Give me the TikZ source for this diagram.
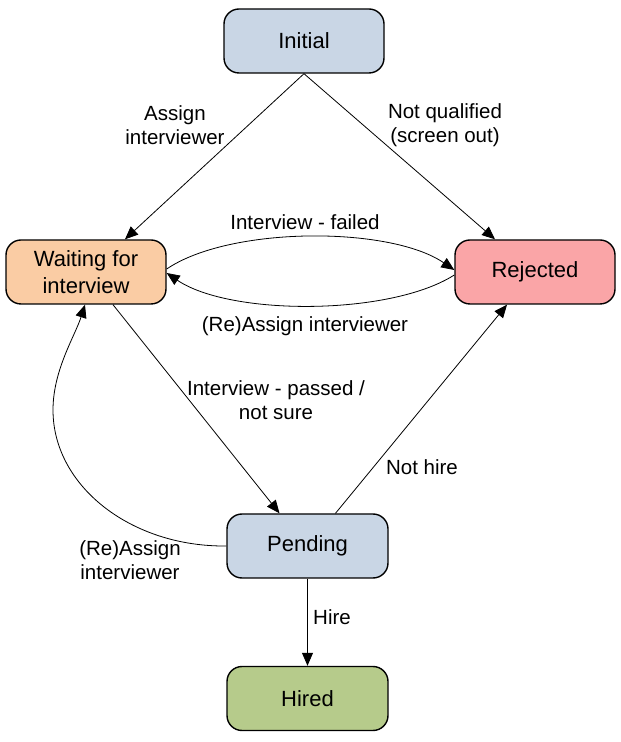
\documentclass[tikz,border=0pt]{standalone}
\usepackage{fontspec}
\setmainfont{Liberation Sans}
\usetikzlibrary{arrows.meta}
\definecolor{cblue}{RGB}{201,214,229}
\definecolor{corange}{RGB}{250,204,164}
\definecolor{cpink}{RGB}{250,165,167}
\definecolor{cgreen}{RGB}{182,203,139}
\begin{document}
\begin{tikzpicture}[x=1pt,y=1pt,
  state/.style={draw=black, line width=1.4pt, rounded corners=15pt, minimum width=160pt, minimum height=64pt, align=center, inner sep=0pt, font=\fontsize{22}{27}\selectfont},
  lbl/.style={align=center, inner sep=0pt, font=\fontsize{20.5}{24}\selectfont},
  edge/.style={draw=black, line width=0.8pt, -{Triangle[length=13pt,width=11pt]}}]
\useasboundingbox (0,0) rectangle (621,742);
\node[state, fill=cblue] (init) at (304,701) {Initial};
\node[state, fill=corange] (wait) at (86,470) {Waiting for\\interview};
\node[state, fill=cpink] (rej) at (535,470) {Rejected};
\node[state, fill=cblue, minimum width=161pt] (pend) at (307.5,196) {Pending};
\node[state, fill=cgreen, minimum width=161pt] (hired) at (307.5,43.5) {Hired};

\draw[edge] (init.south) -- ([xshift=39pt]wait.north);
\draw[edge] (init.south) -- ([xshift=-40pt]rej.north);
\draw[edge] ([yshift=3pt]wait.east) .. controls (230,516) and (390,516) .. ([yshift=2pt]rej.west);
\draw[edge] ([yshift=-3pt]rej.west) .. controls (390,426) and (230,426) .. ([yshift=-1pt]wait.east);
\draw[edge] ([xshift=27pt]wait.south) -- ([xshift=-28pt]pend.north);
\draw[edge] ([xshift=28pt]pend.north) -- ([xshift=-28pt]rej.south);
\coordinate (m) at (53,332);
\draw[edge] (pend.west) .. controls (131,195) and (53,256) .. (m) .. controls (53,372) and (75,406) .. ([xshift=-1pt]wait.south);
\draw[edge] (pend.south) -- (hired.north);

\node[lbl] (l1) at (175,617) {Assign\\interviewer};
\node[lbl] (l2) at (445,617) {Not qualified\\(screen out)};
\node[lbl] (l3) at (305,520) {Interview - failed};
\node[lbl] (l4) at (305,416) {(Re)Assign interviewer};
\node[lbl] (l5) at (276,342) {Interview - passed /\\not sure};
\node[lbl] (l6) at (422,275) {Not hire};
\node[lbl] (l7) at (130,182) {(Re)Assign\\interviewer};
\node[lbl] (l8) at (332,125) {Hire};
\end{tikzpicture}
\end{document}
